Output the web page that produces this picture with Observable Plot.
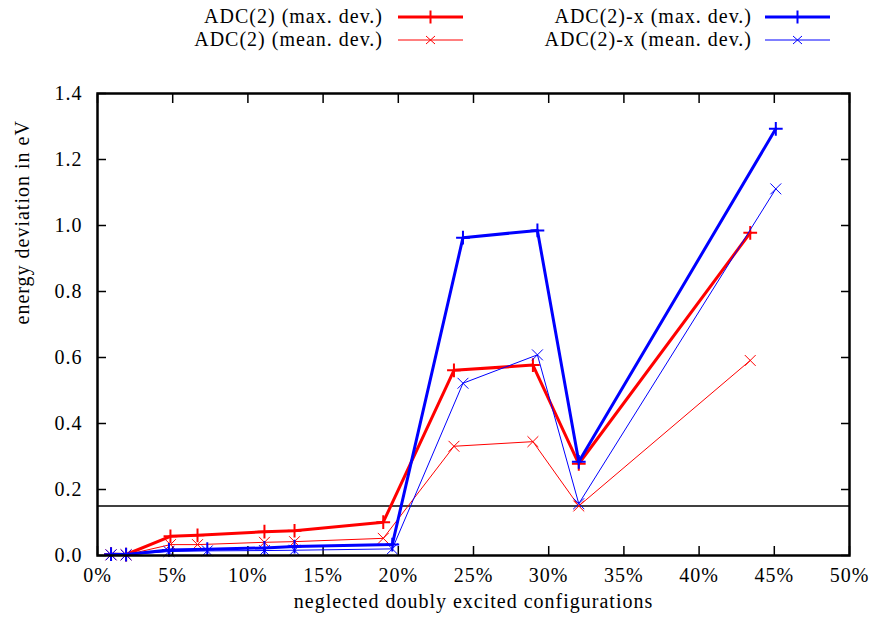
<!DOCTYPE html>
<html><head><meta charset="utf-8">
<script src="https://cdn.jsdelivr.net/npm/d3@7"></script>
<script src="https://cdn.jsdelivr.net/npm/@observablehq/plot@0.6"></script>
<style>
body{margin:0;background:#fff;}
#wrap{position:relative;width:869px;height:622px;font-family:"Liberation Serif","Times New Roman",serif;overflow:hidden;}
.leg{position:absolute;font-size:20px;letter-spacing:1px;white-space:nowrap;line-height:20px;color:#000;text-align:right;}
.legsvg{position:absolute;}
#chart{position:absolute;left:0;top:60px;}
</style></head><body><div id="wrap"><div id="legend"></div><div id="chart"></div></div>
<script>
// ---- data ----
const adc2X     = [0.9, 1.9, 4.85, 6.65, 11.1, 13.1, 19.0, 23.7, 28.95, 32.0, 43.4];
const adc2Max   = [0.004, 0.003, 0.058, 0.061, 0.072, 0.075, 0.101, 0.561, 0.577, 0.278, 0.978];
const adc2Mean  = [0.002, 0.002, 0.033, 0.033, 0.040, 0.042, 0.052, 0.331, 0.345, 0.150, 0.591];
const adc2xX    = [0.9, 1.9, 4.75, 7.3, 11.1, 13.1, 19.6, 24.3, 29.25, 32.0, 45.1];
const adc2xMax  = [0.004, 0.003, 0.017, 0.019, 0.023, 0.027, 0.033, 0.963, 0.985, 0.284, 1.293];
const adc2xMean = [0.002, 0.002, 0.012, 0.014, 0.015, 0.016, 0.020, 0.522, 0.608, 0.157, 1.111];
const threshold = [0.15];
const seriesNames = ["ADC(2) (max. dev.)", "ADC(2) (mean. dev.)", "ADC(2)-x (max. dev.)", "ADC(2)-x (mean. dev.)"];
const xTicks = [0, 5, 10, 15, 20, 25, 30, 35, 40, 45, 50];
const yTicks = [0, 0.2, 0.4, 0.6, 0.8, 1.0, 1.2, 1.4];
const xLabel = "neglected doubly excited configurations";
const yLabel = "energy deviation in eV";

// ---- styles ----
const RED = "#ff0000", BLUE = "#0000ff";
const series = [
  {name: seriesNames[0], xs: adc2X,  ys: adc2Max,   color: RED,  width: 3,   symbol: "plus",  r: 4.5, sw: 2},
  {name: seriesNames[1], xs: adc2X,  ys: adc2Mean,  color: RED,  width: 1,   symbol: "times", r: 5,   sw: 1},
  {name: seriesNames[2], xs: adc2xX, ys: adc2xMax,  color: BLUE, width: 3,   symbol: "plus",  r: 4.5, sw: 2},
  {name: seriesNames[3], xs: adc2xX, ys: adc2xMean, color: BLUE, width: 1,   symbol: "times", r: 5,   sw: 1}
];
series.forEach(s => s.rows = s.xs.map((x, i) => ({x, y: s.ys[i]})));

// ---- legend (HTML above the chart) ----
const legLayout = [
  {textRight: 383, sx: 398, cy: 17},
  {textRight: 383, sx: 398, cy: 40},
  {textRight: 752, sx: 765, cy: 17},
  {textRight: 752, sx: 765, cy: 40}
];
const legend = document.getElementById("legend");
series.forEach((s, i) => {
  const L = legLayout[i];
  const t = document.createElement("div");
  t.className = "leg";
  t.textContent = s.name;
  t.style.right = (869 - L.textRight) + "px";
  t.style.top = (L.cy - 11) + "px";
  legend.appendChild(t);
  const ns = "http://www.w3.org/2000/svg";
  const svg = document.createElementNS(ns, "svg");
  svg.setAttribute("class", "legsvg");
  svg.setAttribute("width", 66); svg.setAttribute("height", 16);
  svg.style.left = L.sx + "px"; svg.style.top = (L.cy - 8) + "px";
  const line = document.createElementNS(ns, "path");
  line.setAttribute("d", "M0,8H65");
  line.setAttribute("stroke", s.color); line.setAttribute("stroke-width", s.width);
  svg.appendChild(line);
  const m = document.createElementNS(ns, "path");
  m.setAttribute("d", s.symbol === "plus" ? "M26,8H39M32.5,1.5V14.5" : "M28,4L37,12M28,12L37,4");
  m.setAttribute("stroke", s.color); m.setAttribute("stroke-width", s.sw); m.setAttribute("fill", "none");
  svg.appendChild(m);
  legend.appendChild(svg);
});

// ---- chart ----
const marks = [
  Plot.ruleY(threshold, {stroke: "black", strokeWidth: 1.5})
];
series.forEach(s => {
  marks.push(Plot.line(s.rows, {x: "x", y: "y", stroke: s.color, strokeWidth: s.width}));
  marks.push(Plot.dot(s.rows, {x: "x", y: "y", symbol: s.symbol, r: s.r, stroke: s.color, strokeWidth: s.sw}));
});
const chart = Plot.plot({
  width: 869, height: 562,
  marginTop: 33, marginBottom: 67, marginLeft: 97, marginRight: 20,
  style: {fontFamily: "'Liberation Serif', 'Times New Roman', serif", fontSize: "20px", letterSpacing: "1px", background: "white", color: "black", overflow: "visible"},
  x: {domain: [0, 50]},
  y: {domain: [0, 1.4]},
  marks: [
    Plot.axisX({anchor: "bottom", ticks: xTicks, tickSize: -9, tickPadding: 21, strokeWidth: 1.5, tickFormat: d => d + "%", label: null}),
    Plot.axisX({anchor: "top", ticks: xTicks, tickSize: -9, strokeWidth: 1.5, tickFormat: () => "", label: null}),
    Plot.axisY({anchor: "left", ticks: yTicks, tickSize: -9, tickPadding: 24, strokeWidth: 1.5, tickFormat: d3.format(".1f"), label: null}),
    Plot.axisY({anchor: "right", ticks: yTicks, tickSize: -9, strokeWidth: 1.5, tickFormat: () => "", label: null}),
    ...marks,
    Plot.frame({stroke: "black", strokeWidth: 2.5}),
    Plot.text([yLabel], {text: d => d, frameAnchor: "left", rotate: -90, dx: -75, fontSize: 20}),
    Plot.text([xLabel], {text: d => d, frameAnchor: "bottom", dy: 52, fontSize: 20})
  ]
});
document.getElementById("chart").appendChild(chart);
</script>
</body></html>
